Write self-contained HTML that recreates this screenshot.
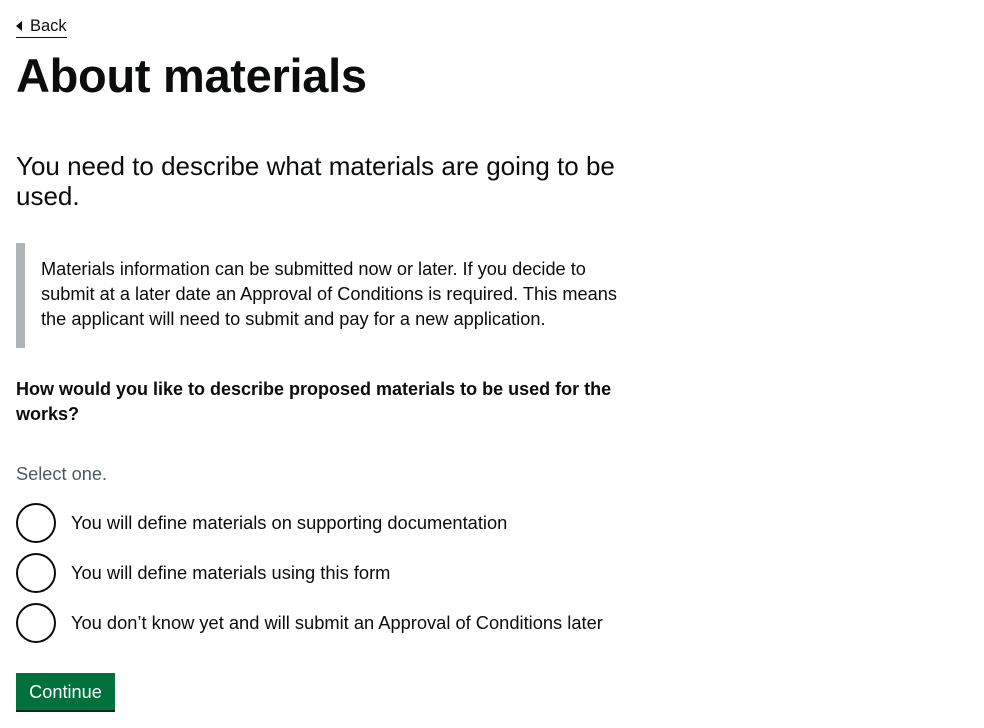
<!DOCTYPE html>
<html><head><meta charset="utf-8"><style>
body{margin:0;width:984px;height:728px;background:#fff;font-family:"Liberation Sans",Arial,sans-serif;color:#0b0c0c;position:relative;overflow:hidden}
.a{position:absolute;white-space:nowrap}
.back{left:16px;top:16px;font-size:16.5px;line-height:20px;padding-left:14px;border-bottom:1px solid #0b0c0c;padding-bottom:1px;color:#0b0c0c;text-decoration:none}
.back:before{content:"";position:absolute;left:0;top:5px;border-style:solid;border-width:5px 6px 5px 0;border-color:transparent #0b0c0c transparent transparent}
h1{position:absolute;left:16px;top:48px;margin:0;font-size:47px;line-height:56px;font-weight:700;letter-spacing:-0.3px}
.lead{left:16px;top:151px;font-size:26px;line-height:30px}
.inset{position:absolute;left:16px;top:243px;width:9px;height:105px;background:#b1b4b6}
.insett{left:41px;top:257px;font-size:18.2px;line-height:25px}
.q{left:16px;top:377px;font-size:18px;line-height:25px;font-weight:700}
.hint{left:16px;top:462px;font-size:18.2px;line-height:25px;color:#505a5f}
.radio{position:absolute;left:16px;width:36px;height:36px;border:2px solid #0b0c0c;border-radius:50%}
.rl{left:71px;font-size:18.3px;line-height:25px}
.btn{position:absolute;left:16px;top:673px;width:99px;height:37px;background:#00703c;box-shadow:0 2px 0 #002d18;color:#fff;font-size:18.2px;line-height:39px;text-align:center;border:0;font-family:inherit;padding:0}
</style></head><body>
<a class="a back" href="#">Back</a>
<h1>About materials</h1>
<div class="a lead">You need to describe what materials are going to be<br>used.</div>
<div class="inset"></div>
<div class="a insett">Materials information can be submitted now or later. If you decide to<br>submit at a later date an Approval of Conditions is required. This means<br>the applicant will need to submit and pay for a new application.</div>
<div class="a q">How would you like to describe proposed materials to be used for the<br>works?</div>
<div class="a hint">Select one.</div>
<div class="radio" style="top:503px"></div>
<div class="a rl" style="top:510px">You will define materials on supporting documentation</div>
<div class="radio" style="top:553px"></div>
<div class="a rl" style="top:560px">You will define materials using this form</div>
<div class="radio" style="top:603px"></div>
<div class="a rl" style="top:610px">You don’t know yet and will submit an Approval of Conditions later</div>
<button class="btn">Continue</button>
</body></html>
